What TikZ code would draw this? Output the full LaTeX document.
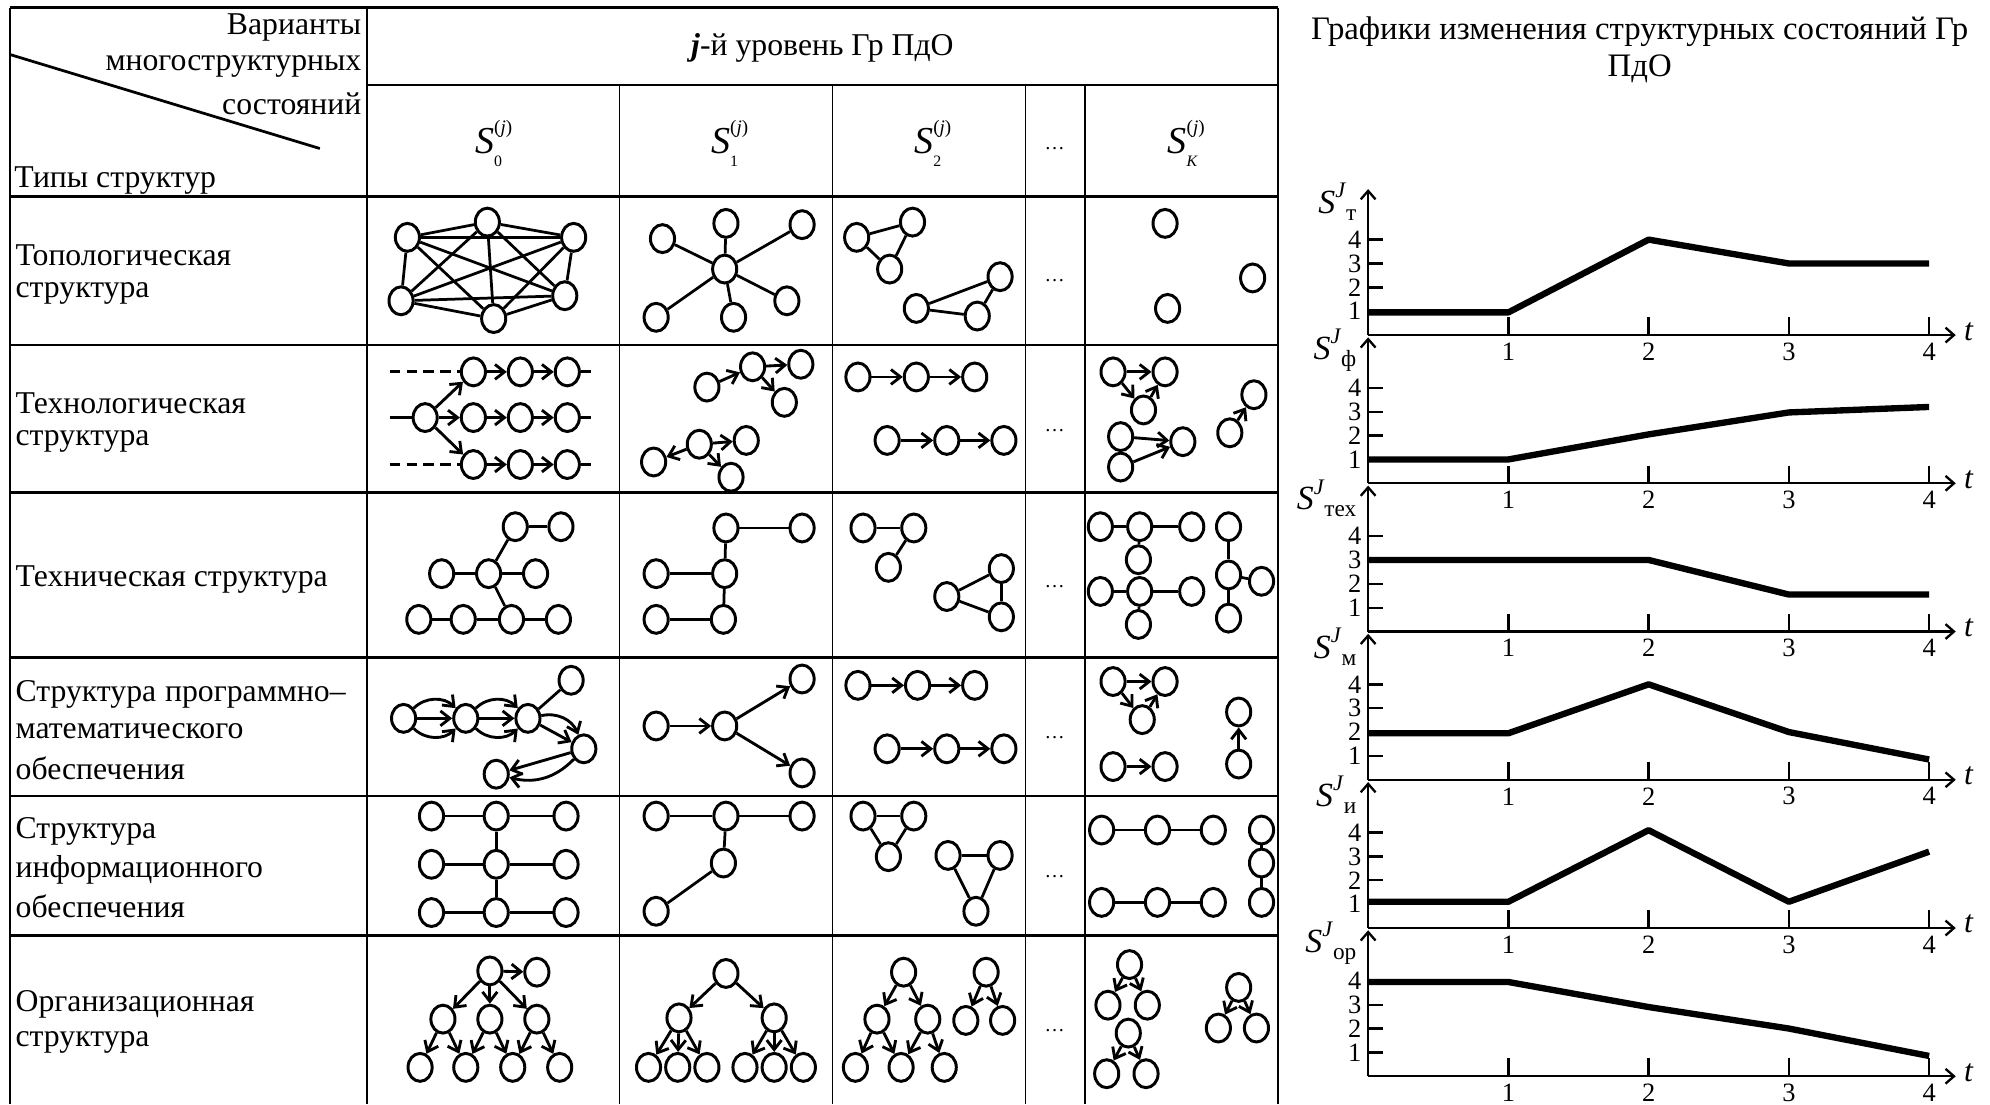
\documentclass[tikz,border=0pt]{standalone}
\usepackage{fontspec}
\setmainfont{Liberation Serif}
\usetikzlibrary{shapes.geometric,arrows.meta}
\newcommand\Shead[1]{\textit{S}\makebox[0pt][l]{\raisebox{1.15ex}{\fontsize{9}{9}\selectfont(\textit{j})}}\raisebox{-0.75ex}{\fontsize{7.5}{8}\selectfont #1}}
\newcommand\SJlab[1]{\textit{S}\raisebox{1.0ex}{\fontsize{10.5}{10}\selectfont\textit{J}}\raisebox{-0.45ex}{\fontsize{11}{11}\selectfont #1}}
\newcommand\V[3]{\node[vtx] (#1) at (#2,#3) {};}
\newcommand\drawchart[8]{%
  \draw[axarr] (1078,#2) -- (1078,#2-115);
  \draw[axarr] (1078,#2) -- (1541,#2);
  \foreach \t in {1,2,3,4}{\draw[axis] ({1078+110.5*\t},#2) -- ({1078+110.5*\t},#2-14);
     \node[dig] (#1x\t) at ({1078+110.5*\t},#2+13) {\t};}
  \foreach \v in {1,2,3,4}{\draw[axis] (1078,{#2-18.8*\v}) -- (1090,{#2-18.8*\v});
     \node[dig,anchor=east] (#1y\v) at (1073,{#2-18.8*\v}) {\v};}
  \node[txt,font=\fontsize{15}{18}\selectfont\itshape] (#1t) at (1551,#2-3) {t};
  \node[txt,anchor=east,font=\fontsize{16}{18}\selectfont] (#1l) at (1069,#2-105) {\SJlab{#3}};
  \draw[crv] (1078,{#2-18.8*#4}) -- (1188.5,{#2-18.8*#5}) -- (1299,{#2-18.8*#6}) -- (1409.5,{#2-18.8*#7}) -- (1520,{#2-18.8*#8});
}
\begin{document}
\begin{tikzpicture}[x=0.6pt,y=-0.6pt,
 vtx/.style={ellipse,draw,fill=white,line width=1.4pt,inner sep=0pt,minimum width=11.4pt,minimum height=13.2pt},
 ed/.style={line width=1.3pt},
 arr/.style={line width=1.35pt,-{Straight Barb[length=4.5pt,width=7pt]}},
 dsh/.style={line width=1.5pt,dash pattern=on 5pt off 3pt},
 hl/.style={line width=1.2pt},
 vl/.style={line width=0.8pt},
 txt/.style={inner sep=0pt,font=\fontsize{15}{18}\selectfont},
 dig/.style={inner sep=0pt,font=\fontsize{12.5}{13}\selectfont},
 dots/.style={inner sep=0pt,font=\fontsize{9.5}{9}\selectfont},
 axis/.style={line width=1.1pt},
 axarr/.style={line width=1.1pt,-{Straight Barb[length=4pt,width=7pt]}},
 crv/.style={line width=3pt,line join=round}]
\useasboundingbox (0,0) rectangle (1568,870);
% ---------- table ----------
\draw[hl] (8,6) -- (1007,6);
\draw[hl] (289,67) -- (1007,67);
\foreach \yy in {155,272,388,518,627,737} \draw[hl] (8,\yy) -- (1007,\yy);
\foreach \xx in {8,289,1007} \draw[vl] (\xx,6) -- (\xx,870);
\foreach \xx in {488,656,808,855} \draw[vl] (\xx,67) -- (\xx,870);
\coordinate (dg1) at (8,43); \coordinate (dg2) at (252,117);
\draw[line width=1.3pt] (dg1) -- (dg2);
% header texts
\node[txt,anchor=east] (h1) at (285,22) {Варианты};
\node[txt,anchor=east] (h2) at (285,52) {многоструктурных};
\node[txt,anchor=east] (h3) at (285,82) {состояний};
\node[txt,anchor=west] (h4) at (11,142) {Типы структур};
\node[txt] (h5) at (648,38) {\textbf{\textit{j}}-й уровень Гр ПдО};
\node[txt,font=\fontsize{18}{18}\selectfont] (s0) at (385,113) {\Shead{0}};
\node[txt,font=\fontsize{18}{18}\selectfont] (s1) at (571,113) {\Shead{1}};
\node[txt,font=\fontsize{18}{18}\selectfont] (s2) at (731,113) {\Shead{2}};
\node[dots] (s3) at (831,117) {\ldots};
\node[txt,font=\fontsize{18}{18}\selectfont] (s4) at (932,113) {\Shead{\textit{K}}};
% row labels
\node[txt,anchor=west] (l1a) at (12,201) {Топологическая};
\node[txt,anchor=west] (l1b) at (12,231) {структура};
\node[txt,anchor=west] (l2a) at (12,318) {Технологическая};
\node[txt,anchor=west] (l2b) at (12,348) {структура};
\node[txt,anchor=west] (l3) at (12,457) {Техническая структура};
\node[txt,anchor=west] (l4a) at (12,547) {\makebox[156pt][s]{Структура программно–}};
\node[txt,anchor=west] (l4b) at (12,576) {математического};
\node[txt,anchor=west] (l4c) at (12,605) {обеспечения};
\node[txt,anchor=west] (l5a) at (12,655) {Структура};
\node[txt,anchor=west] (l5b) at (12,685) {информационного};
\node[txt,anchor=west] (l5c) at (12,714) {обеспечения};
\node[txt,anchor=west] (l6a) at (12,791) {Организационная};
\node[txt,anchor=west] (l6b) at (12,821) {структура};
% dots in column
\node[dots] (d1) at (831,221) {\ldots};
\node[dots] (d2) at (831,339) {\ldots};
\node[dots] (d3) at (831,462) {\ldots};
\node[dots] (d4) at (831,581) {\ldots};
\node[dots] (d5) at (831,691) {\ldots};
\node[dots] (d6) at (831,812) {\ldots};
% ---------- row 1 ----------
\V{ka}{321}{187}\V{kb}{384}{175}\V{kc}{452}{187}\V{kd}{316}{237}\V{ke}{389}{251}\V{kf}{445}{233}
\foreach \a/\b in {ka/kb,ka/kc,ka/kd,ka/ke,ka/kf,kb/kc,kb/kd,kb/ke,kb/kf,kc/kd,kc/ke,kc/kf,kd/ke,kd/kf,ke/kf} \draw[ed] (\a) -- (\b);
\V{sc}{571}{212}\V{s1a}{522}{188}\V{s1b}{572}{176}\V{s1c}{632}{177}\V{s1d}{517}{250}\V{s1e}{578}{250}\V{s1f}{620}{237}
\foreach \a in {s1a,s1b,s1c,s1d,s1e,s1f} \draw[ed] (sc) -- (\a);
\V{ta}{675}{187}\V{tb}{719}{175}\V{tc}{701}{212}\V{td}{788}{218}\V{te}{722}{243}\V{tf}{770}{249}
\foreach \a/\b in {ta/tb,ta/tc,tb/tc,te/td,td/tf,te/tf} \draw[ed] (\a) -- (\b);
\V{ia}{918}{176}\V{ib}{987}{219}\V{ic}{920}{243}
% ---------- row 2 ----------
\V{ga1}{373}{293}\V{ga2}{410}{293}\V{ga3}{447}{293}
\V{gm0}{335}{329}\V{gm1}{373}{329}\V{gm2}{410}{329}\V{gm3}{447}{329}
\V{gb1}{373}{366}\V{gb2}{410}{366}\V{gb3}{447}{366}
\coordinate (dt) at (307,293); \coordinate (dm) at (307,329); \coordinate (db) at (307,366);
\coordinate (et) at (466,293); \coordinate (em) at (466,329); \coordinate (eb) at (466,366);
\draw[dsh] (dt) -- (ga1); \draw[dsh] (db) -- (gb1); \draw[ed,line width=1.5pt] (dm) -- (gm0);
\draw[ed,line width=1.5pt] (ga3) -- (et); \draw[ed,line width=1.5pt] (gm3) -- (em); \draw[ed,line width=1.5pt] (gb3) -- (eb);
\foreach \a/\b in {gm0/ga1,gm0/gm1,gm0/gb1,ga1/ga2,ga2/ga3,gm1/gm2,gm2/gm3,gb1/gb2,gb2/gb3} \draw[arr] (\a) -- (\b);
\V{u1}{557}{305}\V{u2}{593}{289}\V{u3}{631}{287}\V{u4}{618}{317}
\V{w1}{515}{364}\V{w2}{551}{350}\V{w3}{588}{347}\V{w4}{576}{376}
\foreach \a/\b in {u1/u2,u2/u3,u2/u4,w2/w1,w2/w3,w2/w4} \draw[arr] (\a) -- (\b);
\V{c1}{676}{297}\V{c2}{722}{297}\V{c3}{768}{297}\V{c4}{699}{347}\V{c5}{746}{347}\V{c6}{791}{347}
\foreach \a/\b in {c1/c2,c2/c3,c4/c5,c5/c6} \draw[arr] (\a) -- (\b);
\V{x1}{877}{293}\V{x2}{918}{293}\V{x3}{901}{323}\V{x4}{883}{344}\V{x5}{932}{348}\V{x6}{883}{368}\V{x7}{969}{341}\V{x8}{988}{311}
\foreach \a/\b in {x1/x2,x1/x3,x3/x2,x4/x5,x6/x5,x7/x8} \draw[arr] (\a) -- (\b);
% ---------- row 3 ----------
\V{ta3}{406}{415}\V{tb3}{442}{415}\V{tc3}{348}{452}\V{td3}{385}{452}\V{te3}{422}{452}\V{tf3}{330}{488}\V{tg3}{365}{488}\V{th3}{403}{488}\V{ti3}{440}{488}
\foreach \a/\b in {ta3/tb3,td3/ta3,tc3/td3,td3/te3,td3/th3,tf3/tg3,tg3/th3,th3/ti3} \draw[ed] (\a) -- (\b);
\V{ua3}{572}{416}\V{ub3}{632}{416}\V{uc3}{517}{452}\V{ud3}{571}{452}\V{ue3}{517}{488}\V{uf3}{570}{488}
\foreach \a/\b in {ua3/ub3,ua3/ud3,uc3/ud3,ud3/uf3,ue3/uf3} \draw[ed] (\a) -- (\b);
\V{va3}{680}{416}\V{vb3}{720}{416}\V{vc3}{700}{447}\V{vd3}{789}{448}\V{ve3}{746}{470}\V{vf3}{789}{486}
\foreach \a/\b in {va3/vb3,vb3/vc3,ve3/vd3,vd3/vf3,ve3/vf3} \draw[ed] (\a) -- (\b);
\V{wa3}{867}{415}\V{wb3}{898}{415}\V{wc3}{939}{415}\V{wd3}{897}{441}\V{we3}{867}{466}\V{wf3}{898}{466}\V{wg3}{939}{466}\V{wh3}{897}{492}
\V{za3}{968}{415}\V{zb3}{968}{453}\V{zc3}{994}{458}\V{zd3}{968}{487}
\foreach \a/\b in {wa3/wb3,wb3/wc3,wb3/wd3,we3/wf3,wf3/wg3,wf3/wh3,za3/zb3,zb3/zd3,zb3/zc3} \draw[ed] (\a) -- (\b);
% ---------- row 4 ----------
\V{q1}{318}{566}\V{q2}{367}{566}\V{q3}{416}{566}\V{q4}{450}{536}\V{q5}{460}{590}\V{q6}{391}{610}
\draw[arr] (q1) -- (q2); \draw[arr] (q1) to[bend left=45] (q2); \draw[arr] (q1) to[bend right=45] (q2);
\draw[arr] (q2) -- (q3); \draw[arr] (q2) to[bend left=45] (q3); \draw[arr] (q2) to[bend right=45] (q3);
\draw[ed] (q3) -- (q4);
\draw[arr] (q3) -- (q5); \draw[arr] (q3) to[bend left=40] (q5);
\draw[arr] (q5) -- (q6); \draw[arr] (q5) to[bend left=30] (q6);
\V{r1}{517}{572}\V{r2}{571}{572}\V{r3}{632}{535}\V{r4}{632}{609}
\foreach \a/\b in {r1/r2,r2/r3,r2/r4} \draw[arr] (\a) -- (\b);
\V{p1}{676}{540}\V{p2}{723}{540}\V{p3}{768}{540}\V{p4}{699}{590}\V{p5}{746}{590}\V{p6}{791}{590}
\foreach \a/\b in {p1/p2,p2/p3,p4/p5,p5/p6} \draw[arr] (\a) -- (\b);
\V{y1}{877}{537}\V{y2}{918}{537}\V{y3}{900}{567}\V{y4}{877}{604}\V{y5}{918}{604}\V{y6}{976}{561}\V{y7}{976}{602}
\foreach \a/\b in {y1/y2,y1/y3,y3/y2,y4/y5,y7/y6} \draw[arr] (\a) -- (\b);
% ---------- row 5 ----------
\foreach \i/\xx in {1/340,2/391,3/446}{\foreach \j/\yy in {1/643,2/681,3/719}{\V{m\i\j}{\xx}{\yy}}}
\foreach \a/\b in {m11/m21,m21/m31,m12/m22,m22/m32,m13/m23,m23/m33,m21/m22,m22/m23} \draw[ed] (\a) -- (\b);
\V{n1}{517}{643}\V{n2}{572}{643}\V{n3}{632}{643}\V{n4}{570}{680}\V{n5}{517}{718}
\foreach \a/\b in {n1/n2,n2/n3,n2/n4,n4/n5} \draw[ed] (\a) -- (\b);
\V{o1}{680}{643}\V{o2}{720}{643}\V{o3}{700}{675}\V{o4}{747}{674}\V{o5}{788}{674}\V{o6}{769}{718}
\foreach \a/\b in {o1/o2,o1/o3,o2/o3,o4/o5,o4/o6,o5/o6} \draw[ed] (\a) -- (\b);
\V{k1}{868}{654}\V{k2}{912}{654}\V{k3}{956}{654}\V{k4}{868}{711}\V{k5}{912}{711}\V{k6}{956}{711}\V{k7}{994}{654}\V{k8}{994}{680}\V{k9}{994}{711}
\foreach \a/\b in {k1/k2,k2/k3,k4/k5,k5/k6,k7/k8,k8/k9} \draw[ed] (\a) -- (\b);
% ---------- row 6 ----------
\V{e1}{386}{765}\V{e2}{423}{766}\V{e3}{349}{803}\V{e4}{386}{803}\V{e5}{423}{803}\V{e6}{331}{841}\V{e7}{367}{841}\V{e8}{404}{841}\V{e9}{441}{841}
\foreach \a/\b in {e1/e2,e1/e3,e1/e4,e1/e5,e3/e6,e3/e7,e4/e7,e4/e8,e5/e8,e5/e9} \draw[arr] (\a) -- (\b);
\V{f1}{572}{767}\V{f2}{535}{802}\V{f3}{610}{802}\V{f4}{511}{841}\V{f5}{534}{841}\V{f6}{557}{841}\V{f7}{587}{841}\V{f8}{610}{841}\V{f9}{633}{841}
\foreach \a/\b in {f1/f2,f1/f3,f2/f4,f2/f5,f2/f6,f3/f7,f3/f8,f3/f9} \draw[arr] (\a) -- (\b);
\V{g1}{712}{766}\V{g2}{691}{803}\V{g3}{731}{803}\V{g4}{674}{841}\V{g5}{710}{841}\V{g6}{744}{841}\V{g7}{777}{766}\V{g8}{761}{804}\V{g9}{790}{804}
\foreach \a/\b in {g1/g2,g1/g3,g2/g4,g2/g5,g3/g5,g3/g6,g7/g8,g7/g9} \draw[arr] (\a) -- (\b);
\V{h61}{890}{760}\V{h62}{873}{792}\V{h63}{904}{792}\V{h64}{889}{814}\V{h65}{872}{846}\V{h66}{903}{846}\V{h67}{976}{778}\V{h68}{960}{810}\V{h69}{990}{810}
\foreach \a/\b in {h61/h62,h61/h63,h64/h65,h64/h66,h67/h68,h67/h69} \draw[arr] (\a) -- (\b);
% ---------- charts ----------
\node[txt,font=\fontsize{15.5}{18}\selectfont] (tt1) at (1292,25) {Графики изменения структурных состояний Гр};
\node[txt,font=\fontsize{15.5}{18}\selectfont] (tt2) at (1292,54) {ПдО};
\drawchart{ca}{264}{т}{0.95}{0.95}{4}{3}{3}
\drawchart{cb}{380.8}{ф}{1}{1}{2.05}{2.97}{3.2}
\drawchart{cc}{497.6}{тех}{3}{3}{3}{1.55}{1.55}
\drawchart{cd}{614.4}{м}{1.95}{1.95}{4}{2}{0.85}
\drawchart{ce}{731.2}{и}{1.1}{1.1}{4.1}{1.1}{3.2}
\drawchart{cf}{848}{ор}{3.95}{3.95}{2.9}{2}{0.85}
\end{tikzpicture}
\end{document}
